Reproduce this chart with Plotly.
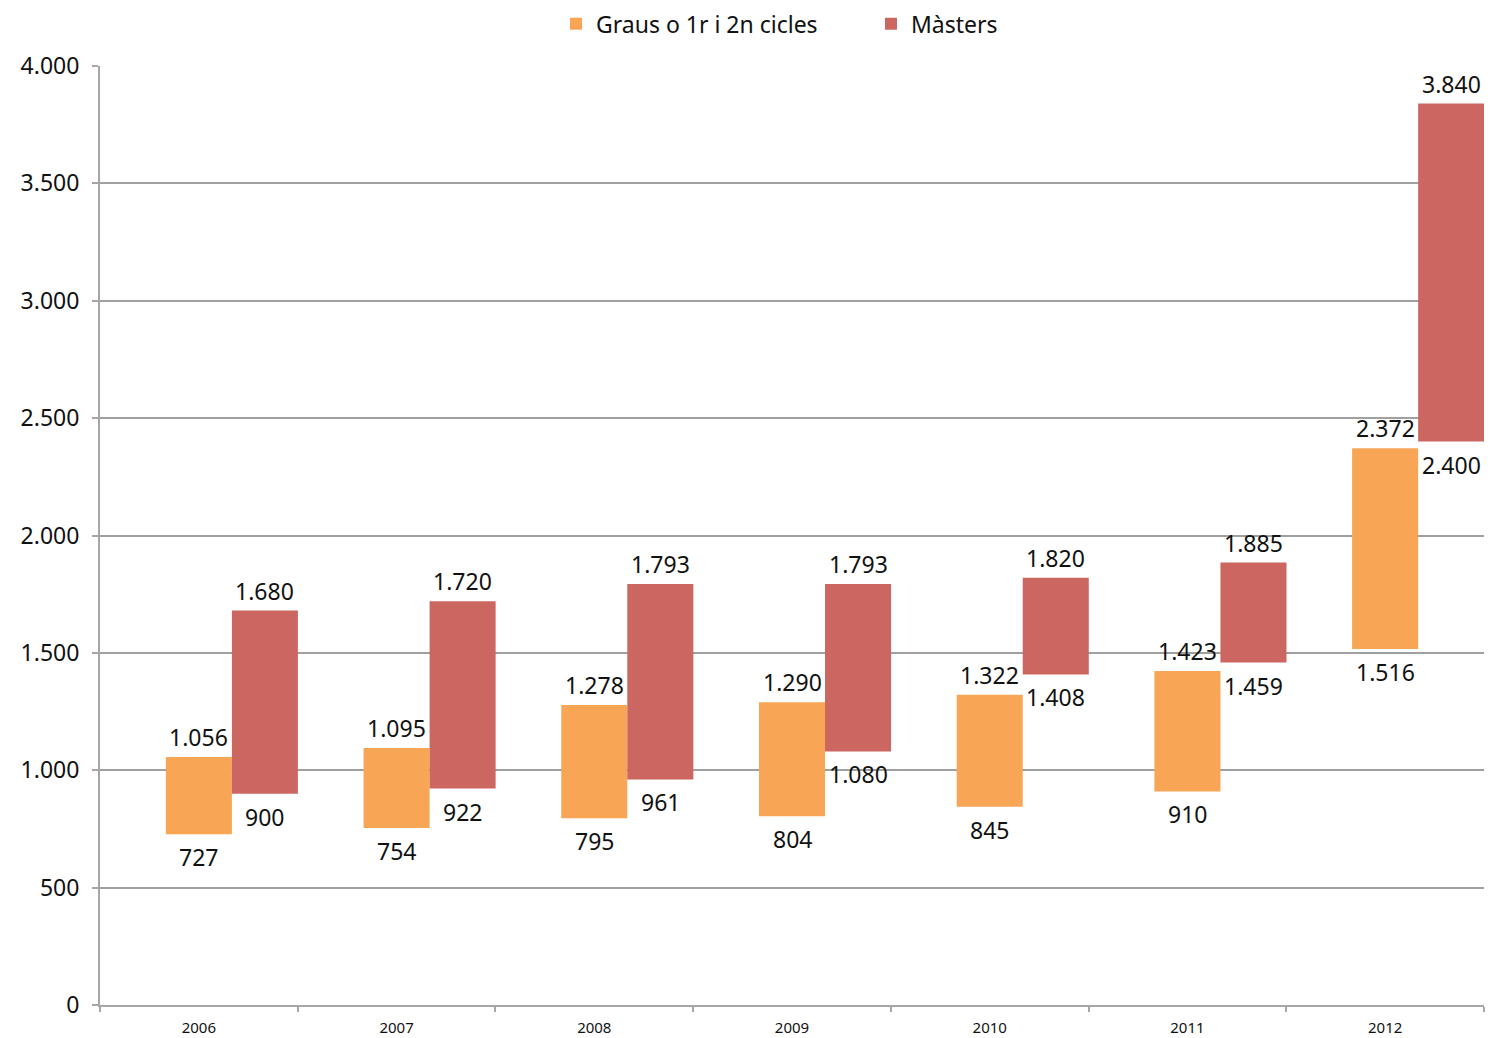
import plotly.graph_objects as go

years = ["2006", "2007", "2008", "2009", "2010", "2011", "2012"]
graus_low = [727, 754, 795, 804, 845, 910, 1516]
graus_high = [1056, 1095, 1278, 1290, 1322, 1423, 2372]
masters_low = [900, 922, 961, 1080, 1408, 1459, 2400]
masters_high = [1680, 1720, 1793, 1793, 1820, 1885, 3840]

orange = "#F8A656"
red = "#CC6660"
font = "Noto Sans"

# orange bar sits on the category centre, red bar just to its right
xs = list(range(len(years)))
x_g = [i for i in xs]
x_m = [i + 0.334 for i in xs]

fig = go.Figure()
fig.add_trace(go.Bar(
    x=x_g, y=[h - l for h, l in zip(graus_high, graus_low)], base=graus_low,
    width=0.334, marker=dict(color=orange, line=dict(width=0)),
    name="Graus o 1r i 2n cicles", hoverinfo="skip"))
fig.add_trace(go.Bar(
    x=x_m, y=[h - l for h, l in zip(masters_high, masters_low)], base=masters_low,
    width=0.334, marker=dict(color=red, line=dict(width=0)),
    name="Màsters", hoverinfo="skip"))


def fmt(v):
    return f"{v:,}".replace(",", ".")


# value labels: top above bar, bottom below bar
for xv, vals, top in [(x_g, graus_high, True), (x_g, graus_low, False),
                      (x_m, masters_high, True), (x_m, masters_low, False)]:
    for x, v in zip(xv, vals):
        fig.add_annotation(x=x, y=v, text=fmt(v), showarrow=False,
                           yanchor="bottom" if top else "top",
                           yshift=2 if top else -5,
                           font=dict(size=23, color="#111111", family=font))

fig.update_layout(
    width=1502, height=1038,
    paper_bgcolor="white", plot_bgcolor="white",
    margin=dict(l=92, r=26, t=58, b=41, autoexpand=False),
    separators=",.",
    barmode="overlay",
    font=dict(family=font, size=23, color="#111111"),
    legend=dict(orientation="h", x=456 / 1384, xanchor="left", y=1.045,
                yanchor="middle", font=dict(size=23), itemwidth=30,
                entrywidth=270),
    xaxis=dict(range=[-0.5, 6.5], tickvals=xs, ticktext=years,
               tickfont=dict(size=15), ticks="", showgrid=False, zeroline=False,
               showline=True, linecolor="#A6A6A6", linewidth=2,
               ticklabelstandoff=8,
               minor=dict(tickvals=[i - 0.5 for i in range(len(years) + 1)],
                          ticks="outside", ticklen=5, tickcolor="#A6A6A6", tickwidth=2,
                          showgrid=False)),
    yaxis=dict(range=[0, 4000], dtick=500, tickformat=",d",
               showgrid=True, gridcolor="#A0A0A0", gridwidth=2,
               zeroline=False, showline=True, linecolor="#A6A6A6", linewidth=2,
               ticks="outside", ticklen=6, tickcolor="#A6A6A6", tickwidth=2,
               ticklabelstandoff=8, tickfont=dict(size=23)),
)

fig.write_html("out.html")
